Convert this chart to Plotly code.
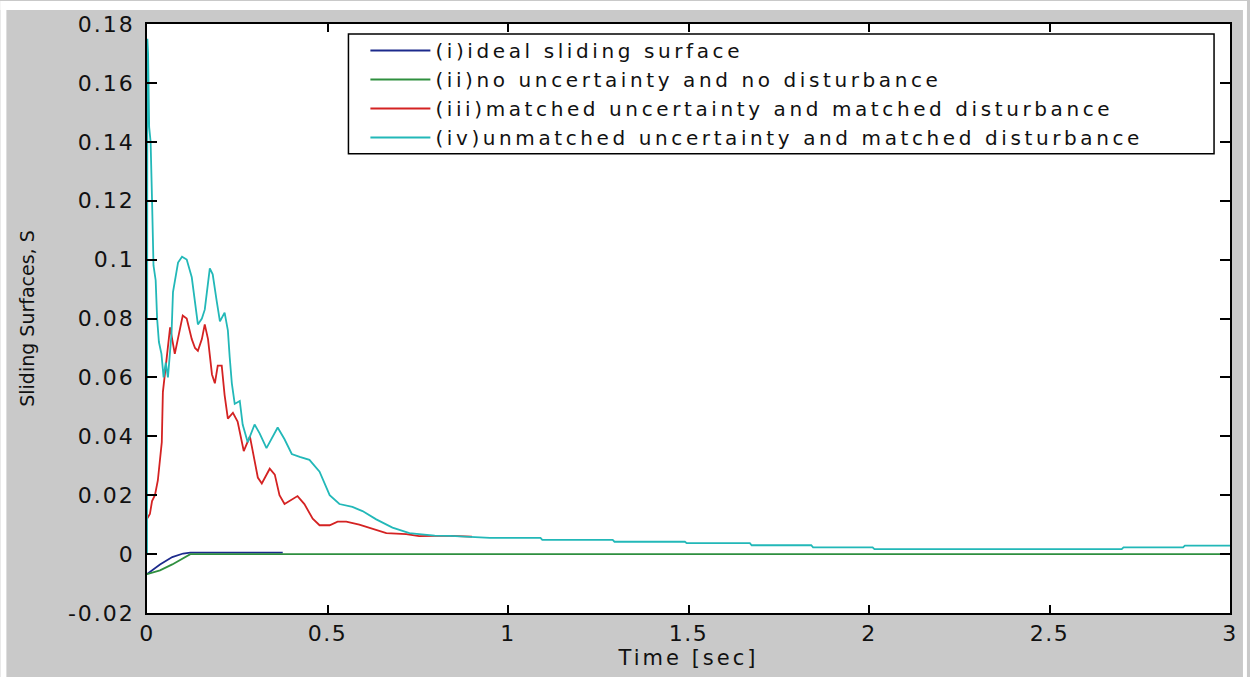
import plotly.graph_objects as go

# ---------------- data ----------------
T_IDEAL = [0.0, 0.036, 0.070, 0.100, 0.120, 0.376]
S_IDEAL = [-0.0068, -0.0035, -0.0010, 0.0002, 0.0005, 0.0005]

T_NOUNC = [0.0, 0.036, 0.070, 0.098, 0.120, 3.0]
S_NOUNC = [-0.0068, -0.0055, -0.0035, -0.0015, 0.0, 0.0]

T_MATCHED = [0.0, 0.008, 0.014, 0.022, 0.030, 0.036, 0.041, 0.044, 0.050, 0.058,
             0.064, 0.077, 0.086, 0.099, 0.110, 0.124, 0.133, 0.141, 0.152, 0.160,
             0.169, 0.180, 0.188, 0.196, 0.207, 0.215, 0.224, 0.238, 0.251, 0.262,
             0.268, 0.285, 0.293, 0.307, 0.318, 0.340, 0.354, 0.367, 0.381, 0.401,
             0.417, 0.436, 0.459, 0.478, 0.506, 0.528, 0.552, 0.588, 0.624, 0.663,
             0.718, 0.754, 0.797, 0.840, 0.900]
S_MATCHED = [0.012, 0.0136, 0.018, 0.020, 0.025, 0.0315, 0.038, 0.055, 0.061, 0.069,
             0.077, 0.068, 0.073, 0.081, 0.080, 0.073, 0.070, 0.069, 0.073, 0.078,
             0.073, 0.061, 0.058, 0.064, 0.064, 0.054, 0.046, 0.048, 0.045, 0.039,
             0.035, 0.040, 0.035, 0.026, 0.024, 0.029, 0.027, 0.020, 0.017, 0.0186,
             0.0197, 0.017, 0.012, 0.0098, 0.0098, 0.011, 0.011, 0.010, 0.0085, 0.0071,
             0.0068, 0.0061, 0.0062, 0.0062, 0.0059]

T_UNMATCHED = [0.0, 0.001, 0.003, 0.006, 0.010, 0.014, 0.018, 0.024, 0.028, 0.033,
               0.040, 0.046, 0.052, 0.058, 0.064, 0.068, 0.072, 0.086, 0.097, 0.110,
               0.124, 0.133, 0.141, 0.152, 0.160, 0.174, 0.182, 0.193, 0.202, 0.215,
               0.224, 0.229, 0.235, 0.243, 0.257, 0.265, 0.271, 0.279, 0.298, 0.312,
               0.331, 0.345, 0.362, 0.381, 0.401, 0.423, 0.450, 0.478, 0.506, 0.533,
               0.569, 0.597, 0.635, 0.680, 0.727, 0.754, 0.797, 0.840, 0.950, 1.090,
               1.095, 1.290, 1.295, 1.490, 1.495, 1.670, 1.675, 1.840, 1.845, 2.010,
               2.015, 2.700, 2.705, 2.870, 2.875, 3.000]
S_UNMATCHED = [0.0, 0.175, 0.170, 0.145, 0.140, 0.120, 0.098, 0.093, 0.080, 0.072,
               0.068, 0.060, 0.065, 0.060, 0.069, 0.075, 0.089, 0.099, 0.101, 0.100,
               0.094, 0.086, 0.078, 0.080, 0.083, 0.097, 0.095, 0.086, 0.079, 0.082,
               0.076, 0.067, 0.058, 0.051, 0.052, 0.044, 0.041, 0.038, 0.044, 0.041,
               0.036, 0.039, 0.043, 0.039, 0.034, 0.033, 0.032, 0.028, 0.020, 0.017,
               0.016, 0.0146, 0.0118, 0.009, 0.0071, 0.0068, 0.0063, 0.0062, 0.0055, 0.0055,
               0.0048, 0.0048, 0.0042, 0.0042, 0.0037, 0.0037, 0.0030, 0.0030, 0.0023, 0.0023,
               0.0017, 0.0017, 0.0023, 0.0023, 0.0029, 0.0029]

SERIES_NAMES = [
    "(i)ideal sliding surface",
    "(ii)no uncertainty and no disturbance",
    "(iii)matched uncertainty and matched disturbance",
    "(iv)unmatched uncertainty and matched disturbance",
]

X_TICK_VALS = [0, 0.5, 1, 1.5, 2, 2.5, 3]
X_TICK_LABELS = ["0", "0.5", "1", "1.5", "2", "2.5", "3"]
Y_TICK_VALS = [-0.02, 0, 0.02, 0.04, 0.06, 0.08, 0.1, 0.12, 0.14, 0.16, 0.18]
Y_TICK_LABELS = ["-0.02", "0", "0.02", "0.04", "0.06", "0.08", "0.1", "0.12", "0.14", "0.16", "0.18"]

X_TITLE = "Time [sec]"
Y_TITLE = "Sliding Surfaces, S"

# ---------------- styling ----------------
COLORS = ["#1c2a8c", "#2f8f3f", "#d42222", "#22b8b8"]
FONT = "DejaVu Sans, Verdana, Arial, sans-serif"
GRAY = "#c9c9c9"
INK = "#111111"

W, H = 1250, 677
L, R, T, B = 147, 17, 23, 64
PW, PH = W - L - R, H - T - B


def px_x(p):
    return (p - L) / PW


def px_y(p):
    return (H - B - p) / PH


def spaced(text, px):
    return f'<span style="letter-spacing:{px}px">{text}</span>'


fig = go.Figure()
series = [(T_IDEAL, S_IDEAL), (T_NOUNC, S_NOUNC), (T_MATCHED, S_MATCHED), (T_UNMATCHED, S_UNMATCHED)]
for (tx, sy), name, col in zip(series, SERIES_NAMES, COLORS):
    fig.add_trace(go.Scatter(x=tx, y=sy, mode="lines", name=spaced(name, 3.6),
                             line=dict(color=col, width=1.8)))

axis_common = dict(
    showgrid=False, zeroline=False, showline=True, linecolor="black", linewidth=1.5,
    mirror="ticks", ticks="inside", tickcolor="black", tickwidth=1.5,
    tickfont=dict(family=FONT, size=22, color=INK),
)

fig.update_xaxes(range=[0, 3], tickvals=X_TICK_VALS,
                 ticktext=[spaced(t, 1.5) for t in X_TICK_LABELS], ticklen=8,
                 title=dict(text=spaced(X_TITLE, 3), font=dict(family=FONT, size=21, color=INK), standoff=4),
                 **axis_common)
fig.update_yaxes(range=[-0.02, 0.18], tickvals=Y_TICK_VALS,
                 ticktext=[spaced(t, 2) for t in Y_TICK_LABELS], ticklen=10,
                 ticklabelstandoff=6,
                 title=dict(text=Y_TITLE, font=dict(family=FONT, size=19, color=INK), standoff=28),
                 **axis_common)

shapes = [
    # white strips at the image border
    dict(type="rect", xref="paper", yref="paper", x0=px_x(0), x1=px_x(W), y0=px_y(9), y1=px_y(0),
         fillcolor="white", line=dict(width=0), layer="below"),
    dict(type="rect", xref="paper", yref="paper", x0=px_x(0), x1=px_x(6), y0=px_y(H), y1=px_y(0),
         fillcolor="white", line=dict(width=0), layer="below"),
    dict(type="rect", xref="paper", yref="paper", x0=px_x(W - 4), x1=px_x(W), y0=px_y(H), y1=px_y(0),
         fillcolor="white", line=dict(width=0), layer="below"),
    # legend frame
    dict(type="rect", xref="paper", yref="paper", x0=px_x(349), x1=px_x(1217), y0=px_y(153), y1=px_y(33),
         fillcolor="white", line=dict(color="black", width=1.5), layer="above"),
]

fig.update_layout(
    width=W, height=H,
    margin=dict(l=L, r=R, t=T, b=B, pad=0),
    paper_bgcolor=GRAY, plot_bgcolor="white",
    showlegend=True,
    legend=dict(x=px_x(366), y=px_y(30), xanchor="left", yanchor="top",
                bgcolor="rgba(0,0,0,0)", borderwidth=0,
                font=dict(family=FONT, size=20, color=INK),
                itemwidth=60, tracegroupgap=0),
    shapes=shapes,
)

fig.write_html("out.html", config={"displayModeBar": False},
               post_script="document.body.style.margin='0px';document.body.style.overflow='hidden';")
